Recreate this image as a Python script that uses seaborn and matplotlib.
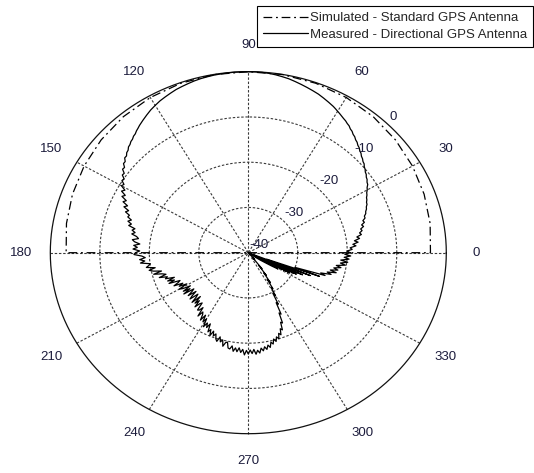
import numpy as np
import pandas as pd
import matplotlib
matplotlib.use("Agg")
import matplotlib.pyplot as plt
import seaborn as sns

# ---------------------------------------------------------------- data
# Radial scale (dB): centre of the plot is the floor, outer circle is the top
r_ticks = [-40, -30, -20, -10, 0]
angle_ticks = [0, 30, 60, 90, 120, 150, 180, 210, 240, 270, 300, 330]

# Simulated standard GPS antenna (upper hemisphere, closed through the floor)
sim_deg = [0, 0, 10, 20, 30, 40, 50, 60, 70, 80, 90, 100, 110, 120, 130,
           140, 150, 160, 170, 180, 180]
sim_db = [-40, -3.2, -2.7, -2.2, -1.7, -1.2, -0.75, -0.4, -0.15, -0.03, 0.0,
          -0.03, -0.15, -0.4, -0.75, -1.2, -1.7, -2.2, -2.7, -3.2, -40]

# Measured directional GPS antenna, one sample per degree (0..359)
meas_deg = list(range(360))
meas_db = [
    -19.4, -20.1, -19.0, -19.4, -18.2, -18.8, -17.7, -18.4, -17.3, -17.8,
    -16.8, -17.1, -16.5, -16.7, -16.0, -16.3, -15.6, -15.8, -15.2, -15.2,
    -14.75, -14.6, -14.25, -14.1, -13.75, -13.65, -13.35, -13.2, -12.85, -12.65,
    -12.25, -12.0, -11.55, -11.4, -11.05, -10.9, -10.55, -10.4, -10.05, -9.85,
    -9.45, -9.3, -8.95, -8.75, -8.35, -8.15, -7.75, -7.55, -7.15, -6.95,
    -6.55, -6.35, -5.95, -5.75, -5.35, -5.15, -4.85, -4.65, -4.4, -4.15,
    -3.9, -3.65, -3.4, -3.2, -3.0, -2.8, -2.6, -2.4, -2.2, -2.05,
    -1.9, -1.75, -1.6, -1.45, -1.3, -1.15, -1.0, -0.85, -0.7, -0.6,
    -0.5, -0.4, -0.3, -0.22, -0.15, -0.1, -0.05, -0.02, 0.0, 0.0,
    0.0, 0.0, 0.0, 0.0, 0.0, -0.02, -0.05, -0.07, -0.1, -0.12,
    -0.15, -0.2, -0.25, -0.3, -0.35, -0.42, -0.5, -0.6, -0.7, -0.8,
    -0.9, -1.0, -1.1, -1.25, -1.4, -1.55, -1.7, -1.85, -2.0, -2.2,
    -2.4, -2.6, -2.8, -3.05, -3.3, -3.55, -3.8, -4.05, -4.3, -4.6,
    -4.85, -5.2, -5.35, -5.7, -5.85, -6.2, -6.35, -6.8, -6.95, -7.4,
    -7.4, -8.0, -8.0, -8.7, -8.6, -9.4, -9.3, -10.1, -9.9, -10.7,
    -10.4, -11.5, -11.0, -12.1, -11.6, -12.8, -12.3, -13.5, -12.9, -14.1,
    -13.6, -14.6, -14.4, -15.3, -14.7, -15.55, -15.1, -16.5, -16.0, -16.7,
    -16.1, -17.15, -17.6, -16.4, -16.9, -18.0, -16.8, -17.55, -16.7, -18.05,
    -17.2, -16.9, -18.5, -19.15, -18.0, -19.0, -18.1, -20.05, -19.7, -19.15,
    -20.9, -19.6, -20.4, -22.0, -20.3, -21.95, -22.7, -21.2, -22.8, -22.3,
    -24.1, -22.55, -23.9, -22.6, -24.9, -24.35, -23.3, -25.15, -24.2, -25.8,
    -23.9, -24.6, -26.2, -24.35, -25.8, -24.1, -26.4, -25.75, -24.6, -26.4,
    -25.2, -24.4, -26.3, -25.6, -24.2, -26.3, -24.5, -25.5, -23.9, -25.05,
    -25.5, -23.7, -23.9, -24.8, -22.7, -24.0, -23.5, -22.25, -23.7, -22.2,
    -23.1, -21.3, -22.4, -21.45, -22.5, -20.7, -21.4, -20.1, -21.3, -20.3,
    -20.9, -19.85, -19.4, -20.55, -19.5, -20.05, -18.7, -19.6, -19.8, -18.55,
    -18.4, -19.15, -18.0, -18.8, -18.0, -18.9, -17.9, -18.6, -17.4, -18.4,
    -17.6, -18.5, -17.7, -18.6, -17.5, -18.35, -17.7, -18.75, -18.1, -18.95,
    -18.3, -19.2, -18.6, -19.7, -19.2, -20.25, -19.6, -20.55, -20.0, -21.15,
    -20.7, -22.0, -21.6, -23.3, -23.0, -25.3, -24.9, -27.6, -27.1, -29.8,
    -29.0, -31.0, -30.6, -33.0, -32.0, -34.5, -33.8, -36.5, -35.5, -38.5,
    -38.0, -39.0, -39.5, -40.0, -40.0, -40.0, -40.0, -40.0, -40.0, -40.0,
    -40.0, -40.0, -40.0, -40.0, -39.0, -38.0, -37.0, -36.0, -34.5, -33.0,
    -33.5, -38.5, -30.5, -40.0, -29.2, -37.0, -28.0, -40.0, -26.5, -36.0,
    -24.7, -30.0, -23.7, -24.7, -22.6, -23.5, -21.7, -23.0, -21.5, -22.4,
    -21.0, -22.0, -20.2, -21.25, -19.8, -21.25, -19.6, -20.6, -19.3, -20.5,
]

legend_labels = ["Simulated - Standard GPS Antenna",
                 "Measured - Directional GPS Antenna"]

# ---------------------------------------------------------------- helpers
R_MIN, R_MAX = r_ticks[0], r_ticks[-1]


def to_xy(deg, db):
    """Polar (deg, dB) -> cartesian on a unit radius plot."""
    th = np.deg2rad(np.asarray(deg, dtype=float))
    r = (np.clip(np.asarray(db, dtype=float), R_MIN, R_MAX) - R_MIN) / (R_MAX - R_MIN)
    return r * np.cos(th), r * np.sin(th)


# ---------------------------------------------------------------- figure
sns.set_theme(style="white")
plt.rcParams["font.family"] = ["Liberation Sans", "DejaVu Sans"]

W, H = 534, 473
fig = plt.figure(figsize=(W / 100, H / 100), dpi=100)
ax = fig.add_axes([0, 0, 1, 1])

# plot centre and radii in pixels (horizontally stretched polar frame)
cx, cy, rx, ry = 248.3, 252.7, 198.0, 181.0
ax.set_xlim(-cx / rx, (W - cx) / rx)
ax.set_ylim(-(H - cy) / ry, cy / ry)
ax.axis("off")

grid_kw = dict(color="#3a3a3a", lw=0.8, linestyle=(0, (2.2, 1.6)), zorder=1)
t = np.linspace(0, 2 * np.pi, 721)
for rr in [0.25, 0.5, 0.75]:
    ax.plot(rr * np.cos(t), rr * np.sin(t), **grid_kw)
for a in range(0, 180, 30):
    ar = np.deg2rad(a)
    ax.plot([-np.cos(ar), np.cos(ar)], [-np.sin(ar), np.sin(ar)], **grid_kw)
ax.plot(np.cos(t), np.sin(t), color="#111111", lw=0.9, zorder=2)

# angle labels
tick_color = "#1c1c3c"
for a in angle_ticks:
    ar = np.deg2rad(a)
    ax.text(1.15 * np.cos(ar), 1.15 * np.sin(ar), str(a), ha="center",
            va="center", fontsize=9.5, color=tick_color)

# radial labels along 45 degrees
for i, v in enumerate(r_ticks):
    rr = i / (len(r_ticks) - 1)
    ax.text(rr * np.cos(np.pi / 4) + 0.004, rr * np.sin(np.pi / 4) + 0.045,
            str(v), ha="left", va="center", fontsize=9.5, color=tick_color,
            zorder=5)

# data curves
sx, sy = to_xy(sim_deg, sim_db)
sim_df = pd.DataFrame({"x": sx, "y": sy})
sns.lineplot(data=sim_df, x="x", y="y", sort=False, estimator=None, ax=ax,
             color="black", lw=0.9, linestyle=(0, (7, 3, 1.5, 3)),
             label=legend_labels[0], zorder=3)

mx, my = to_xy(meas_deg + [meas_deg[0]], meas_db + [meas_db[0]])
meas_df = pd.DataFrame({"x": mx, "y": my})
sns.lineplot(data=meas_df, x="x", y="y", sort=False, estimator=None, ax=ax,
             color="black", lw=0.9, label=legend_labels[1], zorder=4)

ax.set_xlabel("")
ax.set_ylabel("")

leg = ax.legend(loc="upper right", bbox_to_anchor=(533 / W, 1 - 6 / H),
                bbox_transform=fig.transFigure, fontsize=9.5, frameon=True,
                fancybox=False, shadow=False, framealpha=1, edgecolor="black",
                borderpad=0.45, handlelength=3.4, handletextpad=0.15,
                labelspacing=0.35, borderaxespad=0)
leg.get_frame().set_linewidth(0.8)

fig.savefig("out.png", dpi=100, facecolor="white")
